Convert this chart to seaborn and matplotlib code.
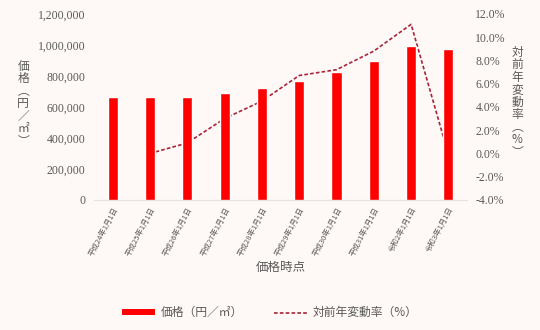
import matplotlib
matplotlib.use("Agg")
import matplotlib.pyplot as plt
import seaborn as sns
import pandas as pd
from matplotlib.ticker import FuncFormatter, MultipleLocator
from matplotlib.lines import Line2D
from matplotlib.patches import Patch

categories = ["平成24年1月1日", "平成25年1月1日", "平成26年1月1日", "平成27年1月1日",
              "平成28年1月1日", "平成29年1月1日", "平成30年1月1日", "平成31年1月1日",
              "令和2年1月1日", "令和3年1月1日"]
prices = [662000, 662000, 667000, 689000, 719000, 767000, 822000, 896000, 990000, 973000]
change_pct = [None, 0.0, 0.9, 3.0, 4.5, 6.7, 7.2, 8.8, 11.1, -0.1]

bg = "#FEF9F6"
txt = "#595959"
bar_color = "#FF0000"
line_color = "#A8243A"

sns.set_theme(style="white")
fam = ["Liberation Serif", "Noto Sans CJK JP", "DejaVu Sans"]
plt.rcParams["font.family"] = fam
cjk = ["Noto Sans CJK JP", "DejaVu Sans"]

df = pd.DataFrame({"時点": categories, "価格": prices, "変動率": change_pct})

fig = plt.figure(figsize=(5.4, 3.3), dpi=100, facecolor=bg)
ax = fig.add_axes([0.174, 0.394, 0.691, 0.564])
ax2 = ax.twinx()

sns.barplot(data=df, x="時点", y="価格", color=bar_color, width=0.27,
            saturation=1, ax=ax2, zorder=3)
ax2.set_ylim(0, 1200000)

xs = list(range(len(categories)))
sns.lineplot(x=xs[1:], y=change_pct[1:], ax=ax, color=line_color,
             linewidth=1.2, linestyle=(0, (2.2, 1.3)), zorder=2)
ax.set_ylim(-4, 12)
ax.set_xlim(-0.5, len(categories) - 0.5)
ax2.set_xlim(-0.5, len(categories) - 0.5)

# price axis on left, change axis on right
ax2.yaxis.tick_left()
ax2.yaxis.set_label_position("left")
ax.yaxis.tick_right()
ax.yaxis.set_label_position("right")

ax2.yaxis.set_major_locator(MultipleLocator(200000))
ax2.yaxis.set_major_formatter(FuncFormatter(lambda v, p: f"{int(v):,}"))
ax.yaxis.set_major_locator(MultipleLocator(2))
ax.yaxis.set_major_formatter(FuncFormatter(lambda v, p: f"{v:.1f}%"))

ax.set_facecolor(bg)
ax2.patch.set_visible(False)
for a in (ax, ax2):
    for s in a.spines.values():
        s.set_visible(False)
    a.tick_params(axis="both", length=0, colors=txt, labelsize=8.5, pad=6)
    a.set_ylabel("")
    a.set_xlabel("")
ax.spines["bottom"].set_visible(True)
ax.spines["bottom"].set_color("#E6E2DF")
ax.spines["bottom"].set_linewidth(0.8)

ax.set_xticks(xs)
ax.set_xticklabels(categories, rotation=62, ha="right", rotation_mode="anchor",
                   fontsize=5.4, color=txt, family=cjk)
ax.tick_params(axis="x", pad=4)
ax2.tick_params(axis="x", labelbottom=False)

fig.text(0.52, 0.19, "価格時点", ha="center", va="center", fontsize=9, color=txt,
         family=cjk)

left_label = "価\n格\n︵\n円\n／\n㎡\n︶"
right_label = "対\n前\n年\n変\n動\n率\n︵\n%\n︶"
fig.text(0.043, 0.686, left_label, ha="center", va="center", fontsize=8.5, color=txt,
         linespacing=0.95, family=cjk)
fig.text(0.958, 0.69, right_label, ha="center", va="center", fontsize=8.5, color=txt,
         linespacing=0.95, family=cjk)

handles = [Patch(facecolor=bar_color, edgecolor="none"),
           Line2D([0], [0], color=line_color, linewidth=1.2, linestyle=(0, (2.2, 1.3)))]
leg = fig.legend(handles, ["価格（円／㎡）", "対前年変動率（%）"], loc="center",
                 bbox_to_anchor=(0.5, 0.052), ncol=2, frameon=False,
                 handlelength=2.8, handleheight=0.45, columnspacing=2.6, handletextpad=0.5,
                 prop={"family": cjk, "size": 8.5})
for t in leg.get_texts():
    t.set_color(txt)

fig.savefig("out.png", dpi=100, facecolor=bg)
